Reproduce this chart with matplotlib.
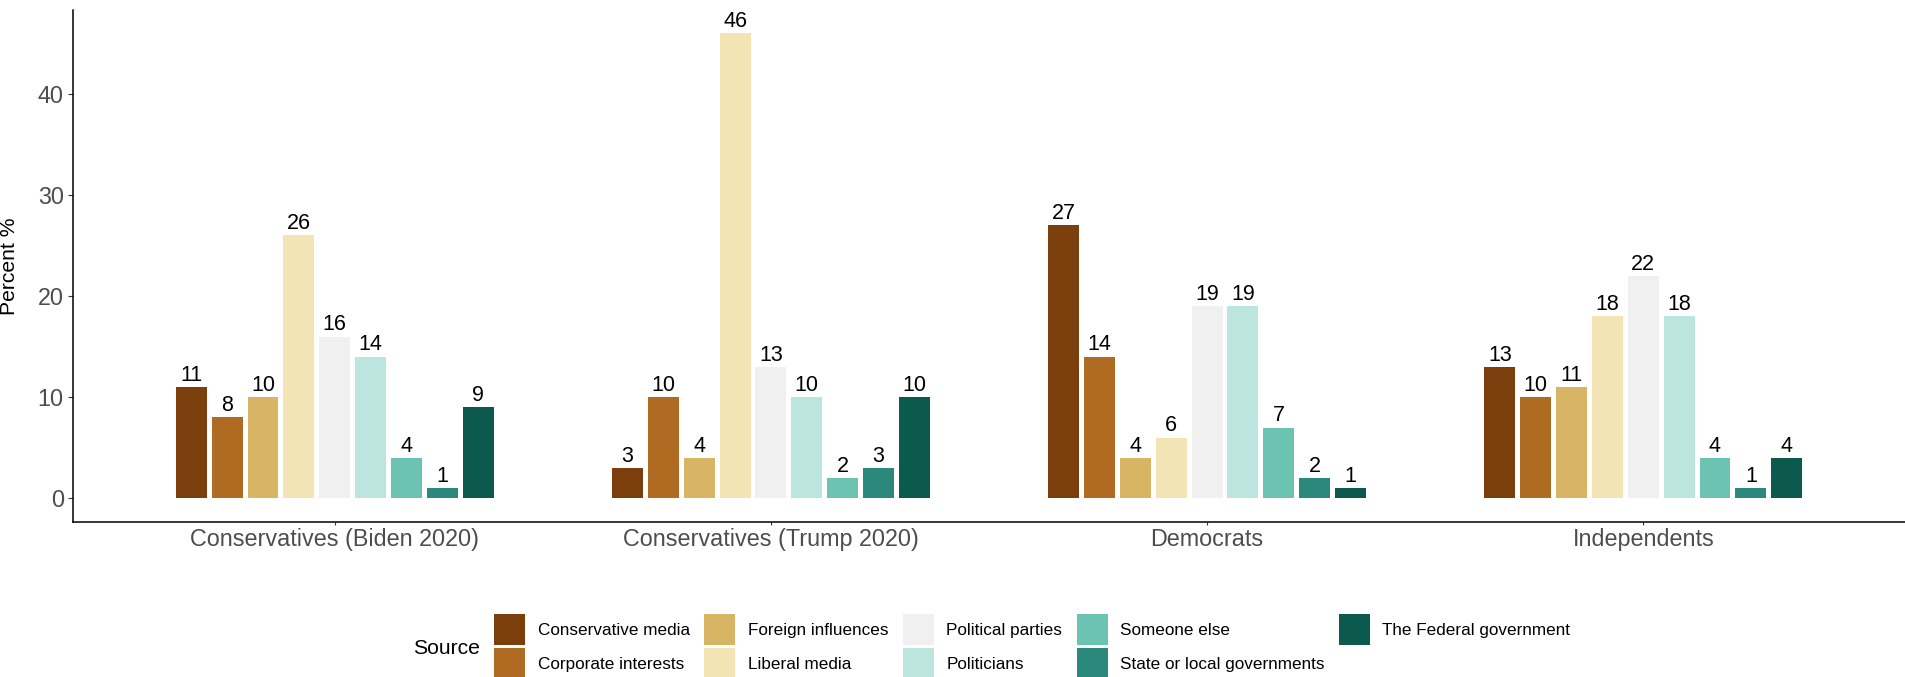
import matplotlib
matplotlib.use("Agg")
import matplotlib.pyplot as plt
from matplotlib.patches import Patch
import numpy as np

plt.rcParams['font.family'] = ['Liberation Sans', 'DejaVu Sans']

groups = ["Conservatives (Biden 2020)", "Conservatives (Trump 2020)", "Democrats", "Independents"]
sources = ["Conservative media", "Corporate interests", "Foreign influences", "Liberal media",
           "Political parties", "Politicians", "Someone else", "State or local governments",
           "The Federal government"]
colors = ["#7A3F0C", "#B06B23", "#D8B465", "#F4E3B5", "#F0F0F0",
          "#BDE5E0", "#6DC3B2", "#2B897C", "#0C5A4E"]

# values[group][source]
biden = [11, 8, 10, 26, 16, 14, 4, 1, 9]
trump = [3, 10, 4, 46, 13, 10, 2, 3, 10]
democrats = [27, 14, 4, 6, 19, 19, 7, 2, 1]
independents = [13, 10, 11, 18, 22, 18, 4, 1, 4]
values = [biden, trump, democrats, independents]

W, H = 1905, 677
fig = plt.figure(figsize=(W / 100, H / 100), dpi=100)
ax_left, ax_right = 73 / W, 1.0
ax_top, ax_bot = 10 / H, 521.6 / H
ax = fig.add_axes([ax_left, 1 - ax_bot, ax_right - ax_left, ax_bot - ax_top])

n = len(sources)
step = 0.0822
bw = 0.071
x = np.arange(1, len(groups) + 1)
for j, src in enumerate(sources):
    offs = (j - (n - 1) / 2) * step
    vals = [values[g][j] for g in range(len(groups))]
    ax.bar(x + offs, vals, width=bw, color=colors[j], linewidth=0)
    for xi, v in zip(x + offs, vals):
        ax.annotate(str(v), (xi, v), xytext=(0, 4.6), textcoords='offset points',
                    ha='center', va='baseline', fontsize=15.5, color='black')

ax.set_xlim(0.4, 4.6)
ax.set_ylim(-2.3, 48.3)
ax.set_xticks(x)
ax.set_xticklabels(groups)
ax.set_yticks([0, 10, 20, 30, 40])
for s in ['top', 'right']:
    ax.spines[s].set_visible(False)
for s in ['left', 'bottom']:
    ax.spines[s].set_linewidth(1.1)
    ax.spines[s].set_color('black')
ax.tick_params(axis='x', length=2.2, width=0.8, pad=2.5, labelsize=16.8, labelcolor='#4D4D4D', color='#333333')
ax.tick_params(axis='y', length=3.6, width=0.8, pad=3.0, labelsize=16.8, labelcolor='#4D4D4D', color='#333333')
ax.set_ylabel("Percent %", fontsize=15.2, color='black')
ax.yaxis.set_label_coords((19.5 - 73) / (W - 73), 0.5)

handles = [Patch(facecolor=c, edgecolor='none') for c in colors]
fs = 12.3
fpx = fs * 100 / 72
hh = (31 / fpx - 0.245) / 0.65
leg = fig.legend(handles, sources, ncol=5, loc='center left',
                 bbox_to_anchor=(494 / W, 1 - 646.5 / H), frameon=False,
                 fontsize=fs, handlelength=31 / fpx, handleheight=hh,
                 handletextpad=12.5 / fpx, columnspacing=14.5 / fpx, labelspacing=3 / fpx,
                 borderpad=0, borderaxespad=0)
fig.text(413 / W, 1 - 648 / H, "Source", fontsize=15.2, ha='left', va='center', color='black')

fig.savefig("out.png", dpi=100)
